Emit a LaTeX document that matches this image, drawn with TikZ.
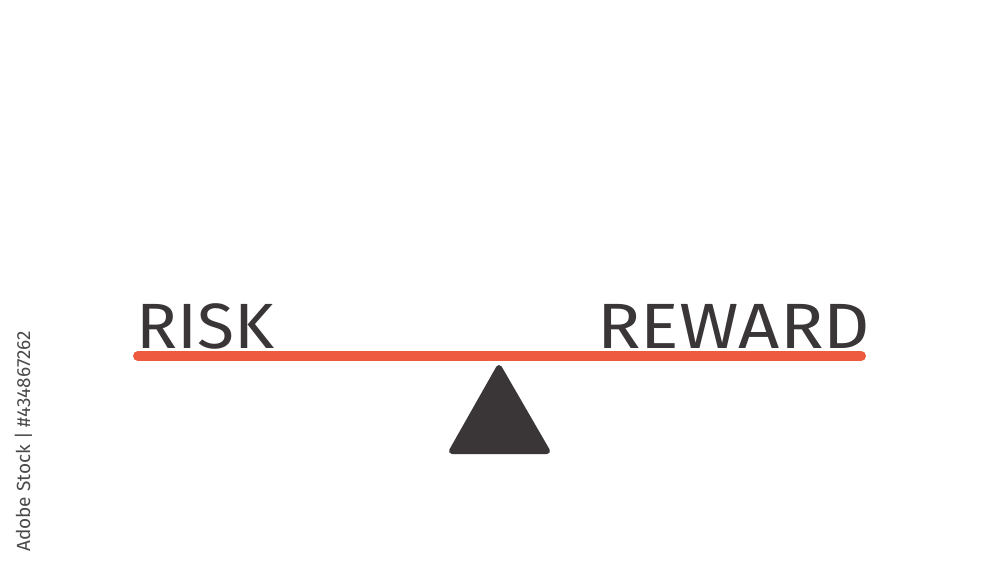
\documentclass[tikz,border=0pt]{standalone}
\usepackage{fontspec}
\setmainfont{Fira Sans}
\definecolor{barred}{HTML}{EE5A3F}
\definecolor{ink}{HTML}{3A3536}
\definecolor{wm}{HTML}{4A4A4A}
\tikzset{
  word/.style={text=ink, font=\fontsize{64}{64}\selectfont, inner sep=0pt, anchor=base west},
  beam/.style={line width=10pt, line cap=round, draw=barred},
  pivot/.style={fill=ink, draw=ink, line width=6pt, line join=round},
}
\begin{document}
\begin{tikzpicture}[x=1pt,y=-1pt]
\useasboundingbox (0,0) rectangle (1000,563);
\fill[white] (0,0) rectangle (1000,563);
\coordinate (bl) at (138,356);
\coordinate (br) at (861,356);
\draw[beam] (bl) -- (br);
\node[word, xscale=1.06] (risk) at (136,348) {RISK};
\node[word, xscale=1.125] (reward) at (597,348) {REWARD};
\coordinate (apex) at (499,368);
\coordinate (b1) at (452,451);
\coordinate (b2) at (547,451);
\filldraw[pivot] (apex) -- (b1) -- (b2) -- cycle;
\node[text=wm, font=\fontsize{19}{19}\selectfont, rotate=90, anchor=base west, inner sep=0pt] (wmk) at (30,552) {Adobe Stock | \#434867262};
\end{tikzpicture}
\end{document}
